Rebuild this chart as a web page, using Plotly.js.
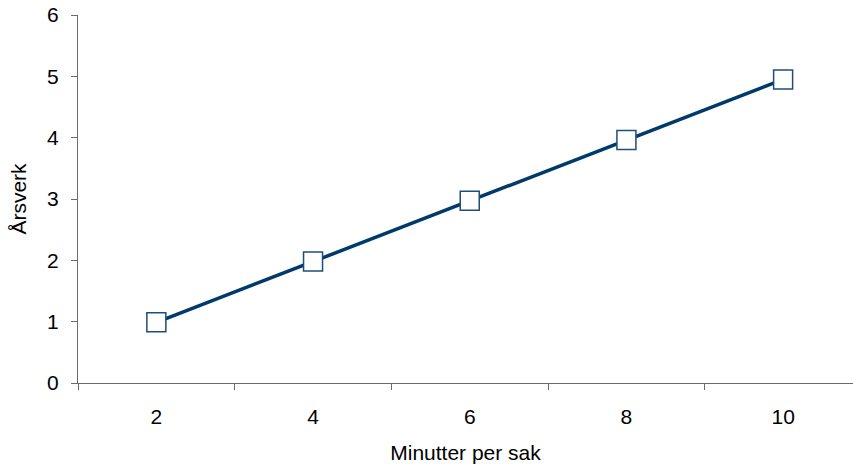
<!DOCTYPE html>
<html>
<head>
<meta charset="utf-8">
<script src="https://cdn.plot.ly/plotly-3.0.1.min.js"></script>
<style>
  html, body { margin: 0; padding: 0; background: #fff; }
  #chart { width: 853px; height: 466px; }
</style>
</head>
<body>
<div id="chart"></div>
<script>
// Minutes spent per case and the resulting full-time equivalents
const minutes = ["2", "4", "6", "8", "10"];
const arsverk = [0.99, 1.98, 2.97, 3.96, 4.95];
const yTicks = [0, 1, 2, 3, 4, 5, 6];

const axisColor = "#6b6b6b";
const fontFamily = "'Liberation Sans', Arial, sans-serif";

const trace = {
  type: "scatter",
  mode: "lines+markers",
  x: minutes,
  y: arsverk,
  line: { color: "#003a6c", width: 3.5 },
  marker: {
    symbol: "square",
    size: 19,
    color: "#ffffff",
    line: { color: "#1f4e79", width: 1.5 }
  },
  hoverinfo: "x+y"
};

const layout = {
  width: 853,
  height: 466,
  margin: { l: 78, r: 0, t: 15, b: 83 },
  paper_bgcolor: "#ffffff",
  plot_bgcolor: "#ffffff",
  showlegend: false,
  font: { family: fontFamily, size: 21, color: "#000000" },
  xaxis: {
    type: "category",
    categoryarray: minutes,
    range: [-0.5, 4.446],
    tickson: "boundaries",
    ticks: "outside",
    ticklen: 6,
    tickcolor: axisColor,
    showline: true,
    linecolor: axisColor,
    linewidth: 1,
    showgrid: false,
    zeroline: false,
    ticklabelstandoff: 15,
    tickfont: { size: 21 },
    title: { text: "Minutter per sak", font: { size: 21 }, standoff: 18 }
  },
  yaxis: {
    range: [0, 6],
    tickvals: yTicks,
    ticks: "outside",
    ticklen: 6,
    tickcolor: axisColor,
    showline: true,
    linecolor: axisColor,
    linewidth: 1,
    showgrid: false,
    zeroline: false,
    ticklabelstandoff: 8,
    tickfont: { size: 21 },
    title: { text: "Årsverk", font: { size: 21 }, standoff: 14 }
  }
};

Plotly.newPlot("chart", [trace], layout, { displayModeBar: false, staticPlot: true });
</script>
</body>
</html>
